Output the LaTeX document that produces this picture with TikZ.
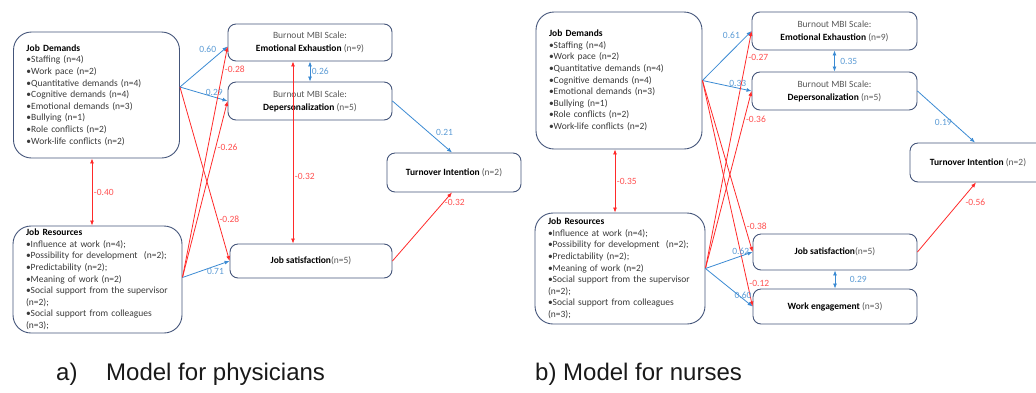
\documentclass[tikz,border=0pt]{standalone}
\usepackage{fontspec}
\setmainfont{Carlito}
\newfontfamily\capfont{Liberation Sans}
\usetikzlibrary{arrows.meta}
\usetikzlibrary{calc}

\definecolor{boxline}{HTML}{44557A}
\definecolor{posline}{HTML}{3A8AD3}
\definecolor{poslab}{HTML}{5B9BD5}
\definecolor{negline}{HTML}{FF2A2A}
\definecolor{neglab}{HTML}{FF5050}
\definecolor{graytext}{HTML}{595959}
\definecolor{itemtext}{HTML}{3A3A3A}

\newcommand{\ngray}[1]{\textcolor{graytext}{#1}}

\tikzset{
	factor/.style={draw=boxline, line width=0.9pt, rounded corners=18pt, align=left,
		inner xsep=13pt, inner ysep=2pt, text=itemtext, font=\fontsize{9.5}{11.6}\selectfont},
	scalebox/.style={draw=boxline, line width=0.9pt, rounded corners=8pt, align=center,
		font=\fontsize{9.5}{13}\selectfont},
	posarrow/.style={draw=posline, line width=0.8pt, -{Latex[length=5pt,width=4pt]}},
	negarrow/.style={draw=negline, line width=0.8pt, -{Latex[length=5pt,width=4pt]}},
	posboth/.style={draw=posline, line width=0.8pt, {Latex[length=5pt,width=4pt]}-{Latex[length=5pt,width=4pt]}},
	negboth/.style={draw=negline, line width=0.8pt, {Latex[length=5pt,width=4pt]}-{Latex[length=5pt,width=4pt]}},
	poslbl/.style={text=poslab, inner sep=1.5pt, font=\fontsize{9.5}{11}\selectfont},
	neglbl/.style={text=neglab, inner sep=1.5pt, font=\fontsize{9.5}{11}\selectfont},
	caption/.style={inner sep=0pt, text=black!90, font=\capfont\fontsize{24}{28}\selectfont}
}

\begin{document}
\begin{tikzpicture}[x=1pt, y=-1pt]
		\useasboundingbox (0,0) rectangle (1036,392);
		\clip (0,0) rectangle (1036,392);

		% a) physicians
		\node[factor, minimum width=166pt, minimum height=126pt, text width=140pt] (JDa) at (96.5,95)
		{\textbf{\color{black}Job Demands}\\ •Staffing (n=4)\\ •Work pace (n=2)\\ •Quantitative demands (n=4)\\
			•Cognitive demands (n=4)\\ •Emotional demands (n=3)\\ •Bullying (n=1)\\ •Role conflicts (n=2)\\
			•Work-life conflicts (n=2)};
		\node[factor, minimum width=169pt, minimum height=107pt, text width=143pt] (JRa) at (97.5,279.5)
		{\textbf{\color{black}Job Resources}\\ •Influence at work (n=4);\\ •Possibility for development~ (n=2);\\
			•Predictability (n=2);\\ •Meaning of work (n=2)\\ •Social support from the supervisor\\ (n=2);\\
			•Social support from colleagues\\ (n=3);};
		\node[scalebox, minimum width=164pt, minimum height=37pt] (EEa) at (310,42.5)
		{\ngray{Burnout MBI Scale:}\\ \textbf{Emotional Exhaustion} \ngray{(n=9)}};
		\node[scalebox, minimum width=164pt, minimum height=38pt] (DPa) at (310,101)
		{\ngray{Burnout MBI Scale:}\\ \textbf{Depersonalization} \ngray{(n=5)}};
		\node[scalebox, minimum width=162pt, minimum height=34pt] (JSa) at (311,261)
		{\textbf{Job satisfaction}\ngray{(n=5)}};
		\node[scalebox, minimum width=134pt, minimum height=39pt] (TIa) at (454,172.5)
		{\textbf{Turnover Intention} \ngray{(n=2)}};

		\coordinate (JDa-out) at ([yshift=8pt]JDa.east);
		\coordinate (JRa-out) at ([yshift=2pt]JRa.east);
		\coordinate (EEa-in) at ([yshift=-4pt]EEa.west);

		\draw[posarrow] (JDa-out) -- node[poslbl, pos=0.8, above left] {0.60} (EEa-in);
		\draw[posarrow] (JDa-out) -- node[poslbl, pos=0.72, above] {0.29} (DPa.west);
		\draw[negarrow] (JDa-out) -- node[neglbl, pos=0.76, right] {-0.28} (JSa.west);
		\draw[negarrow] (JRa-out) -- node[neglbl, pos=0.9, right] {-0.28} (EEa-in);
		\draw[negarrow] (JRa-out) -- node[neglbl, pos=0.74, right] {-0.26} (DPa.west);
		\draw[posarrow] (JRa-out) -- node[poslbl, pos=0.7, below] {0.71} (JSa.west);
		\draw[posboth] (EEa.south) -- node[poslbl, right] {0.26} (DPa.north);
		\draw[negboth] ([xshift=-17pt]EEa.south) -- node[neglbl, pos=0.63, right] {-0.32} ([xshift=-18pt]JSa.north);
		\draw[posarrow] (DPa.east) -- node[poslbl, pos=0.7, above right] {0.21} ([xshift=-2pt]TIa.north);
		\draw[negarrow] (JSa.east) -- node[neglbl, pos=0.85, right] {-0.32} ([xshift=-2pt]TIa.south);
		\draw[negboth] ([xshift=-4.5pt]JDa.south) -- node[neglbl, right] {-0.40} ([xshift=-5.5pt]JRa.north);

		% b) nurses
		\node[factor, minimum width=166pt, minimum height=137pt, text width=140pt] (JDb) at (619,80.5)
		{\textbf{\color{black}Job Demands}\\ •Staffing (n=4)\\ •Work pace (n=2)\\ •Quantitative demands (n=4)\\
			•Cognitive demands (n=4)\\ •Emotional demands (n=3)\\ •Bullying (n=1)\\ •Role conflicts (n=2)\\
			•Work-life conflicts (n=2)};
		\node[factor, minimum width=170pt, minimum height=111pt, text width=144pt] (JRb) at (620,268.5)
		{\textbf{\color{black}Job Resources}\\ •Influence at work (n=4);\\ •Possibility for development~ (n=2);\\
			•Predictability (n=2);\\ •Meaning of work (n=2)\\ •Social support from the supervisor\\ (n=2);\\
			•Social support from colleagues\\ (n=3);};
		\node[scalebox, minimum width=165pt, minimum height=38pt] (EEb) at (834.5,31)
		{\ngray{Burnout MBI Scale:}\\ \textbf{Emotional Exhaustion} \ngray{(n=9)}};
		\node[scalebox, minimum width=165pt, minimum height=38pt] (DPb) at (834.5,91)
		{\ngray{Burnout MBI Scale:}\\ \textbf{Depersonalization} \ngray{(n=5)}};
		\node[scalebox, minimum width=136pt, minimum height=39pt] (TIb) at (978,162.5)
		{\textbf{Turnover Intention} \ngray{(n=2)}};
		\node[scalebox, minimum width=164pt, minimum height=36pt] (JSb) at (835,252)
		{\textbf{Job satisfaction}\ngray{(n=5)}};
		\node[scalebox, minimum width=164pt, minimum height=35pt] (WEb) at (835,306.5)
		{\textbf{Work engagement} \ngray{(n=3)}};

		\draw[posarrow] (JDb.east) -- node[poslbl, pos=0.8, above left] {0.61} (EEb.west);
		\draw[posarrow] (JDb.east) -- node[poslbl, pos=0.72, above] {0.33} (DPb.west);
		\draw[negarrow] (JDb.east) -- node[neglbl, pos=0.85, right] {-0.38} (JSb.west);
		\draw[negarrow] (JDb.east) -- node[neglbl, pos=0.9, right] {-0.12} (WEb.west);
		\draw[negarrow] (JRb.east) -- node[neglbl, pos=0.89, right] {-0.27} (EEb.west);
		\draw[negarrow] (JRb.east) -- node[neglbl, pos=0.84, right] {-0.36} (DPb.west);
		\draw[posarrow] (JRb.east) -- node[poslbl, pos=0.75, above] {0.62} (JSb.west);
		\draw[posarrow] (JRb.east) -- node[poslbl, pos=0.8, above, inner sep=0pt] {0.60} (WEb.west);
		\draw[posboth] (EEb.south) -- node[poslbl, right=4pt] {0.35} (DPb.north);
		\draw[posboth] (JSb.south) -- node[poslbl, right=13pt] {0.29} (WEb.north);
		\draw[posarrow] (DPb.east) -- node[poslbl, pos=0.45, below=3pt] {0.19} ([xshift=-3pt]TIb.north);
		\draw[negarrow] (JSb.east) -- node[neglbl, pos=0.72, right=4pt] {-0.56} ([xshift=-2pt]TIb.south);
		\draw[negboth] ([xshift=-4pt]JDb.south) -- node[neglbl, right] {-0.35} ([xshift=-5pt]JRb.north);

		% captions
		\node[caption, anchor=base west] (capa) at (56,380) {a)\hspace{28.7pt}Model for physicians};
		\node[caption, anchor=base west] (capb) at (535,380) {b) Model for nurses};
	\end{tikzpicture}
\end{document}
